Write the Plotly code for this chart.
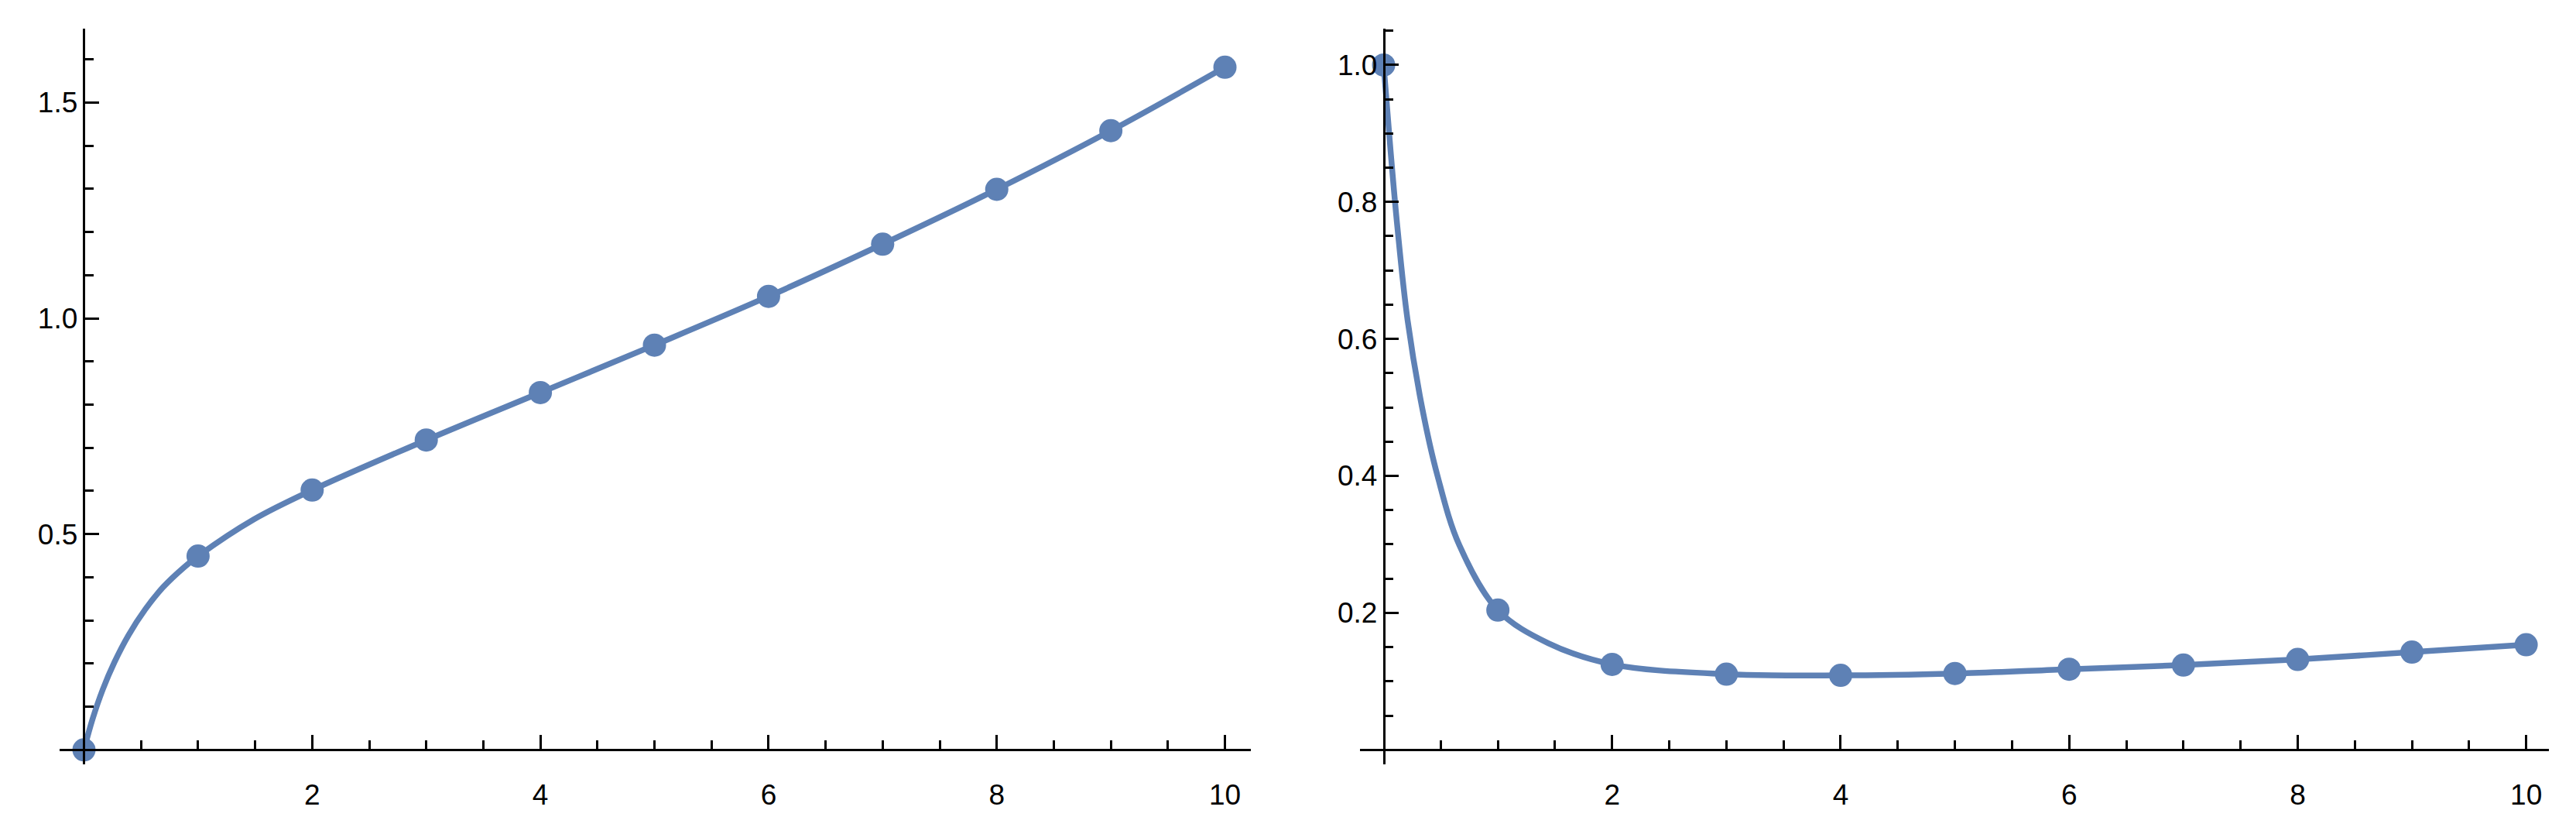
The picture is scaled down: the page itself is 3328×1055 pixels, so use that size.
import plotly.graph_objects as go

# page / figure geometry (the HTML body has an 8px margin)
PAGE_W, PAGE_H = 3328, 1055
OFF = 8
W, H = PAGE_W - 2 * OFF, PAGE_H - 2 * OFF

# ---------------- data ----------------
x_pts = [0, 1, 2, 3, 4, 5, 6, 7, 8, 9, 10]
left_pts = [0.0, 0.449, 0.602, 0.718, 0.828, 0.938, 1.051, 1.172, 1.299, 1.435, 1.582]
right_pts = [1.0, 0.204, 0.1248, 0.1105, 0.1087, 0.1115, 0.1177, 0.1237, 0.132, 0.1427, 0.1534]

left_curve_x = [0, 0.075, 0.165, 0.267, 0.391, 0.538, 0.697, 0.877, 1, 1.488, 2, 3, 4, 5, 6, 7, 8, 9, 10]
left_curve_y = [0, 0.071, 0.140, 0.203, 0.266, 0.326, 0.378, 0.423, 0.449, 0.534, 0.602, 0.718,
                0.828, 0.938, 1.051, 1.172, 1.299, 1.435, 1.582]

right_curve_x = [0, 0.06, 0.12, 0.21, 0.34, 0.47, 0.662, 1, 1.441, 2, 3, 4, 5, 6, 7, 8, 9, 10]
right_curve_y = [1, 0.876, 0.764, 0.627, 0.497, 0.401, 0.299, 0.204, 0.1557, 0.1248, 0.1105,
                 0.1087, 0.1115, 0.1177, 0.1237, 0.132, 0.1427, 0.1534]

x_ticks = [2, 4, 6, 8, 10]
x_tick_text = ["2", "4", "6", "8", "10"]
x_minor = [0.5, 1, 1.5, 2.5, 3, 3.5, 4.5, 5, 5.5, 6.5, 7, 7.5, 8.5, 9, 9.5]
left_y_ticks = [0.5, 1.0, 1.5]
left_y_text = ["0.5", "1.0", "1.5"]
left_y_minor = [0.1, 0.2, 0.3, 0.4, 0.6, 0.7, 0.8, 0.9, 1.1, 1.2, 1.3, 1.4, 1.6]
right_y_ticks = [0.2, 0.4, 0.6, 0.8, 1.0]
right_y_text = ["0.2", "0.4", "0.6", "0.8", "1.0"]
right_y_minor = [0.05, 0.1, 0.15, 0.25, 0.3, 0.35, 0.45, 0.5, 0.55, 0.65, 0.7, 0.75, 0.85, 0.9, 0.95, 1.05]

# ---------------- styling / geometry ----------------
BLUE = "#5E81B5"
FONT = dict(family="Liberation Sans, Arial, sans-serif", size=37, color="black")
LW_AXIS = 2.6
MAJ_LEN, MIN_LEN = 18, 11

left_xr = [-0.217, 10.227]
left_yr = [-0.0336, 1.6709]
right_xr = [-0.209, 10.199]
right_yr = [-0.0212, 1.0527]

# target page pixels
y_top_px, y_bot_px = 37.3, 987.0
left_px = (76.5, 1616.0)
right_px = (1756.7, 3293.0)


def px_x(p):
    return (p - OFF) / W


def px_y(p):
    return (H - (p - OFF)) / H


ydom = [px_y(y_bot_px), px_y(y_top_px)]
left_xdom = [px_x(left_px[0]), px_x(left_px[1])]
right_xdom = [px_x(right_px[0]), px_x(right_px[1])]


def frac(v, r, dom):
    return dom[0] + (v - r[0]) / (r[1] - r[0]) * (dom[1] - dom[0])


fig = go.Figure()

for xa, ya, cx, cy, py in [("x", "y", left_curve_x, left_curve_y, left_pts),
                           ("x2", "y2", right_curve_x, right_curve_y, right_pts)]:
    fig.add_trace(go.Scatter(x=cx, y=cy, mode="lines", xaxis=xa, yaxis=ya,
                             line=dict(color=BLUE, width=7.5, shape="spline", smoothing=1.0),
                             hoverinfo="skip", showlegend=False))
    fig.add_trace(go.Scatter(x=x_pts, y=py, mode="markers", xaxis=xa, yaxis=ya,
                             marker=dict(color=BLUE, size=30, line=dict(width=0)),
                             showlegend=False))


def xaxis_cfg(dom, rng, yr):
    return dict(domain=dom, range=rng, anchor="free", position=frac(0, yr, ydom),
                showline=True, linecolor="black", linewidth=LW_AXIS,
                showgrid=False, zeroline=False,
                tickmode="array", tickvals=x_ticks, ticktext=x_tick_text,
                ticks="inside", ticklen=MAJ_LEN, tickwidth=LW_AXIS, tickcolor="black",
                tickfont=FONT, ticklabelstandoff=25,
                minor=dict(tickmode="array", tickvals=x_minor, ticks="inside", ticklen=MIN_LEN,
                           tickwidth=LW_AXIS, tickcolor="black", showgrid=False))


def yaxis_cfg(rng, ticks, text, minor, xdom, xr):
    return dict(domain=ydom, range=rng, anchor="free", position=frac(0, xr, xdom),
                showline=True, linecolor="black", linewidth=LW_AXIS,
                showgrid=False, zeroline=False,
                tickmode="array", tickvals=ticks, ticktext=text,
                ticks="inside", ticklen=MAJ_LEN, tickwidth=LW_AXIS, tickcolor="black",
                tickfont=FONT,
                minor=dict(tickmode="array", tickvals=minor, ticks="inside", ticklen=MIN_LEN,
                           tickwidth=LW_AXIS, tickcolor="black", showgrid=False))


fig.update_layout(
    width=W, height=H,
    margin=dict(l=0, r=0, t=0, b=0),
    paper_bgcolor="white", plot_bgcolor="white",
    showlegend=False,
    xaxis=xaxis_cfg(left_xdom, left_xr, left_yr),
    yaxis=yaxis_cfg(left_yr, left_y_ticks, left_y_text, left_y_minor, left_xdom, left_xr),
    xaxis2=xaxis_cfg(right_xdom, right_xr, right_yr),
    yaxis2=yaxis_cfg(right_yr, right_y_ticks, right_y_text, right_y_minor, right_xdom, right_xr),
)

fig.write_html("out.html")
